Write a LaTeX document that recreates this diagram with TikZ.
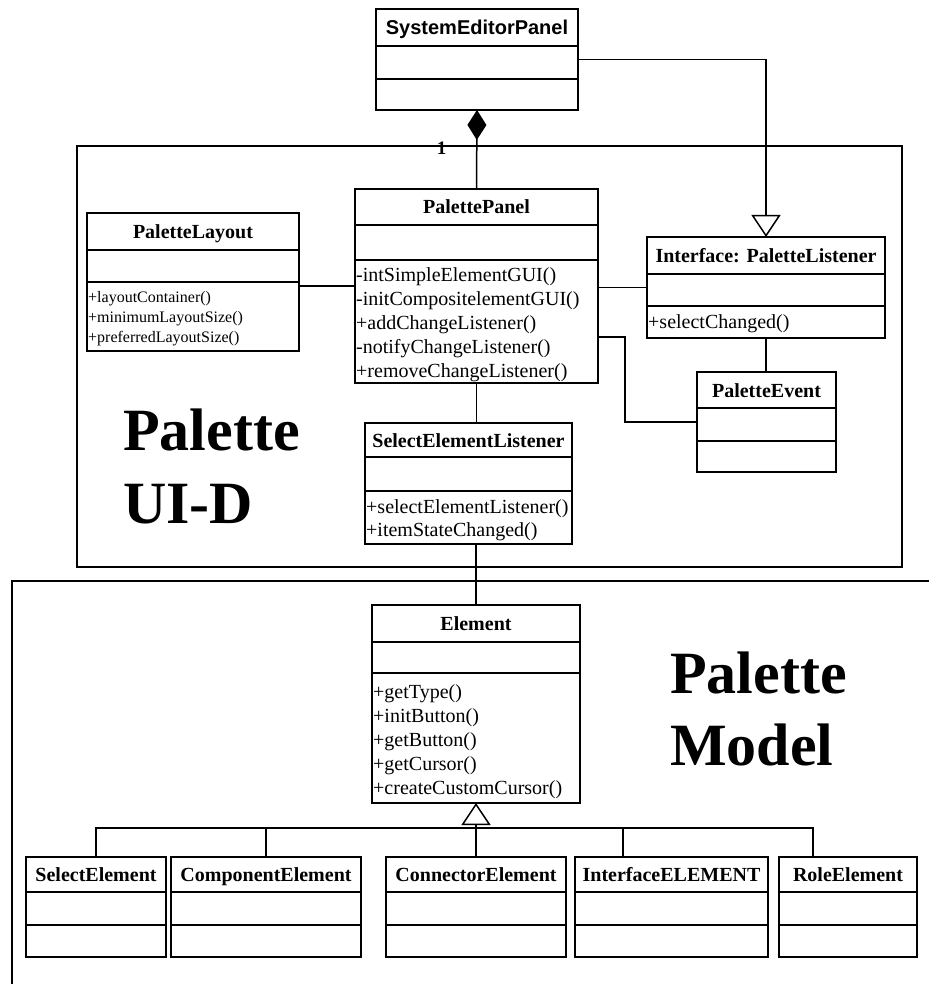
\documentclass[tikz,border=0pt]{standalone}
\usepackage{fontspec}
\setmainfont{Liberation Serif}
\newfontfamily\headsans{Liberation Sans}
\usetikzlibrary{arrows.meta,calc}

\tikzset{
  classbox/.style={draw=black, line width=1.5pt, fill=white, inner sep=0pt, outer sep=0pt, rectangle},
  divline/.style={line width=1.5pt},
  titletext/.style={font=\bfseries\fontsize{20}{24}\selectfont, inner sep=0pt, anchor=base},
  optext/.style={font=\fontsize{20}{24}\selectfont, inner sep=0pt, anchor=base west},
  smallops/.style={font=\fontsize{16}{20}\selectfont},
  link/.style={line width=1.5pt},
  composition/.style={link, -{Diamond[length=30pt,width=19pt]}},
  inherit/.style={link, -{Triangle[open,length=22pt,width=29pt,fill=white]}},
  framepath/.style={line width=1.5pt},
  bigtext/.style={font=\bfseries\fontsize{60}{72}\selectfont, inner sep=0pt, anchor=base west},
}

% class box: [title style] name, left, top, right, bottom, first divider, second divider, title
\newcommand\umlclass[9][]{%
  \pgfmathsetmacro\boxw{#5-#3}%
  \pgfmathsetmacro\boxh{#6-#4}%
  \node[classbox, anchor=north west, minimum width=\boxw pt, minimum height=\boxh pt] (#2) at (#3,#4) {};
  \draw[divline] (#3,#7) -- (#5,#7) (#3,#8) -- (#5,#8);
  \node[titletext,#1] (#2-title) at ({(#3+#5)/2},{(#4+#7)/2+7}) {#9};
}

% operation lines: [style] name, left, first baseline, spacing, list
\newcommand\umlops[6][]{%
  \foreach \op [count=\k] in {#6} {
    \node[optext,#1] (#2-op\k) at ({#3+1},{#4+(\k-1)*#5}) {\op};
  }%
}

\begin{document}
\begin{tikzpicture}[x=1pt, y=-1pt]
  \useasboundingbox (0,0) rectangle (929,984);

  % package frames
  \draw[framepath] (77,146) rectangle (902,567);
  \draw[framepath] (929,581) -- (12,581) -- (12,984);

  % package names
  \node[bigtext] (uiname1) at (123,450) {Palette};
  \node[bigtext] (uiname2) at (123,523) {UI-D};
  \node[bigtext] (modelname1) at (670,693) {Palette};
  \node[bigtext] (modelname2) at (670,765) {Model};

  % classes of the UI package
  \umlclass[font=\headsans\bfseries\fontsize{20}{24}\selectfont]{sep}{376}{9}{578}{110}{46}{79}{SystemEditorPanel}

  \umlclass{pl}{87}{213}{299}{351}{250}{282}{PaletteLayout}
  \umlops[smallops]{pl}{87}{302}{20}{+layoutContainer(),+minimumLayoutSize(),+preferredLayoutSize()}

  \umlclass{pp}{355}{189}{598}{383}{225}{260}{PalettePanel}
  \umlops{pp}{355}{281}{24}{-intSimpleElementGUI(),-initCompositelementGUI(),+addChangeListener(),-notifyChangeListener(),+removeChangeListener()}

  \umlclass{ipl}{647}{237}{885}{338}{274}{306}{Interface: PaletteListener}
  \umlops{ipl}{647}{328}{24}{+selectChanged()}

  \umlclass{pe}{697}{372}{836}{472}{408}{441}{PaletteEvent}

  \umlclass{sel}{365}{423}{572}{544}{457}{491}{SelectElementListener}
  \umlops{sel}{365}{513}{23}{+selectElementListener(),+itemStateChanged()}

  % classes of the model package
  \umlclass{el}{372}{605}{580}{803}{642}{673}{Element}
  \umlops{el}{372}{698}{24}{+getType(),+initButton(),+getButton(),+getCursor(),+createCustomCursor()}

  \umlclass{se}{26}{857}{166}{957}{892}{925}{SelectElement}
  \umlclass{cpe}{171}{857}{361}{957}{892}{925}{ComponentElement}
  \umlclass{cne}{386}{857}{566}{957}{892}{925}{ConnectorElement}
  \umlclass{ie}{575}{857}{768}{957}{892}{925}{InterfaceELEMENT}
  \umlclass{re}{779}{857}{917}{957}{892}{925}{RoleElement}

  % associations
  \draw[composition] (pp.north) -- (sep.south);
  \node[font=\bfseries\fontsize{19}{19}\selectfont, inner sep=0pt] (mult) at (441.5,148.5) {1};
  \draw[inherit] (sep.east) -| (ipl.north);
  \draw[link] (pl.east |- pp.west) -- (pp.west);
  \draw[link] (pp.east |- ipl.west) -- (ipl.west);
  \draw[link] (ipl.south) -- (ipl.south |- pe.north);
  \draw[link] ([yshift=-51pt]pp.east) -- ++(27,0) |- (pe.west);
  \draw[link] (pp.south) -- (pp.south |- sel.north);
  \draw[link] (el.north |- sel.south) -- (el.north);

  % generalisation tree
  \coordinate (fork) at ($(el.south)+(0,25)$);
  \coordinate (iedrop) at ([xshift=-48.5pt]ie.north);
  \coordinate (redrop) at ([xshift=-35pt]re.north);
  \draw[link] (se.north) |- (fork) -| (redrop);
  \draw[link] (cpe.north) -- (cpe.north |- fork);
  \draw[link] (iedrop) -- (iedrop |- fork);
  \draw[inherit] (cne.north) -- (el.south);
\end{tikzpicture}
\end{document}
